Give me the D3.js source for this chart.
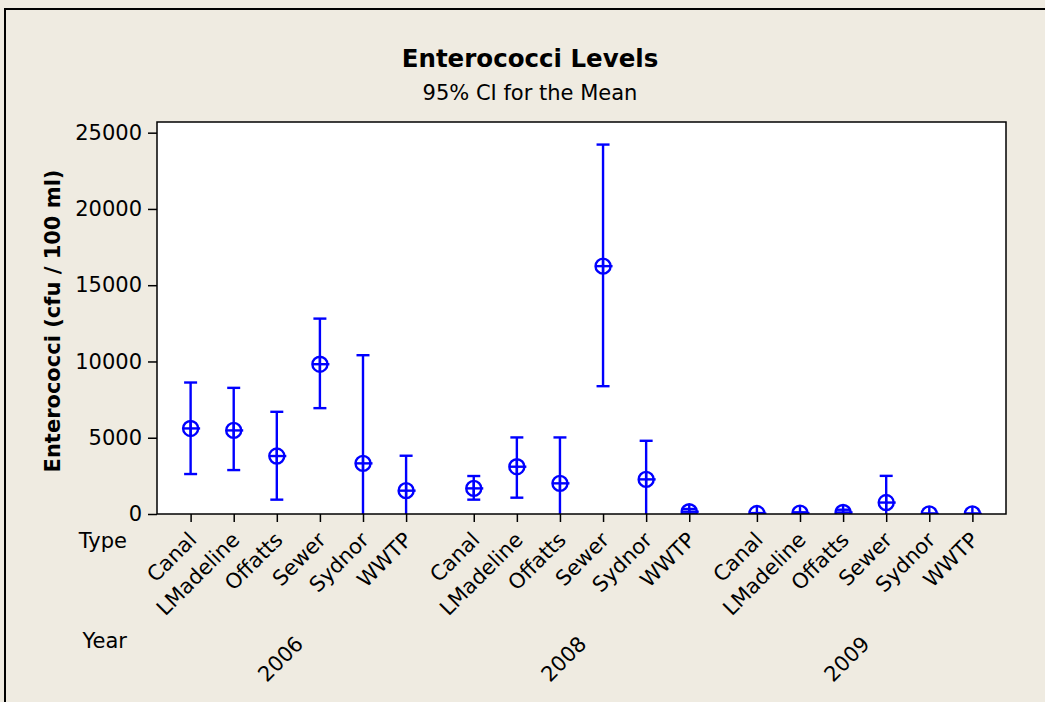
<!DOCTYPE html>
<html>
<head>
<meta charset="utf-8">
<script src="https://cdn.jsdelivr.net/npm/d3@7"></script>
<style>
  body { margin: 0; background: #efebe1; }
  svg { display: block; font-family: "DejaVu Sans", sans-serif; }
</style>
</head>
<body>
<div id="chart"></div>
<script>
// Data
const years = ['2006', '2008', '2009'];
const types = ['Canal', 'LMadeline', 'Offatts', 'Sewer', 'Sydnor', 'WWTP'];

// one row per year, one value per type
const means = [
  [5610, 5480, 3800, 9820, 3320, 1530],
  [1680, 3100, 2010, 16250, 2270, 150],
  [30, 60, 100, 750, 10, 10]
];
const lower = [
  [2620, 2880, 940, 6940, -3770, -760],
  [940, 1070, -1000, 8380, -260, 0],
  [0, 10, -80, -1000, -10, -10]
];
const upper = [
  [8620, 8270, 6700, 12810, 10410, 3820],
  [2490, 5020, 5020, 24220, 4800, 330],
  [60, 110, 280, 2500, 30, 30]
];
const yTicks = [0, 5000, 10000, 15000, 20000, 25000];

const title = 'Enterococci Levels';
const subtitle = '95% CI for the Mean';
const yLabel = 'Enterococci (cfu / 100 ml)';

function renderInterval(container) {
  const width = 1045, height = 702;
  const plot = { left: 157, right: 1006, top: 122, bottom: 514 };
  const groupStep = 6.57;   // slots per year group (6 types + gap)
  const blue = '#0000ff';
  const labelSize = 21;

  d3.select(container).selectAll('*').remove();

  const rows = years.flatMap((yr, g) => types.map((t, i) => ({
    year: yr, type: t, slot: g * groupStep + i,
    mean: means[g][i], lo: lower[g][i], hi: upper[g][i]
  })));

  const x = d3.scaleLinear()
    .domain([-0.78, 18.92])
    .range([plot.left, plot.right]);

  const y = d3.scaleLinear()
    .domain([0, 25700])
    .range([plot.bottom, plot.top]);

  const svg = d3.select(container)
    .append('svg')
      .attr('width', width)
      .attr('height', height);

  // background + frame (top and left edges visible)
  svg.append('rect')
    .attr('width', width).attr('height', height)
    .attr('fill', '#efebe1');
  svg.append('path')
    .attr('d', `M5,${height} V9 H${width}`)
    .attr('fill', 'none')
    .attr('stroke', '#000')
    .attr('stroke-width', 2);

  // titles
  svg.append('text')
    .attr('x', 530).attr('y', 67)
    .attr('text-anchor', 'middle')
    .attr('font-size', 24.5).attr('font-weight', 'bold')
    .text(title);
  svg.append('text')
    .attr('x', 530).attr('y', 100)
    .attr('text-anchor', 'middle')
    .attr('font-size', 21)
    .text(subtitle);

  // plot area
  svg.append('rect')
    .attr('x', plot.left).attr('y', plot.top)
    .attr('width', plot.right - plot.left)
    .attr('height', plot.bottom - plot.top)
    .attr('fill', '#fff');

  svg.append('clipPath')
    .attr('id', 'plot-clip')
    .append('rect')
      .attr('x', plot.left).attr('y', plot.top)
      .attr('width', plot.right - plot.left)
      .attr('height', plot.bottom - plot.top);

  // y axis
  const yAxis = svg.append('g')
    .attr('transform', `translate(${plot.left},0)`)
    .call(d3.axisLeft(y)
      .tickValues(yTicks)
      .tickSize(9)
      .tickPadding(6)
      .tickSizeOuter(0)
      .tickFormat(d3.format('d')));
  yAxis.select('.domain').remove();
  yAxis.selectAll('line').attr('stroke', '#000').attr('stroke-width', 1.5);
  yAxis.selectAll('text')
    .attr('font-size', labelSize)
    .attr('font-family', '"DejaVu Sans", sans-serif')
    .attr('fill', '#000');

  svg.append('text')
    .attr('transform', `translate(60,321) rotate(-90)`)
    .attr('text-anchor', 'middle')
    .attr('font-size', 21).attr('font-weight', 'bold')
    .text(yLabel);

  // x axis ticks
  const xAxis = svg.append('g')
    .attr('transform', `translate(0,${plot.bottom})`)
    .call(d3.axisBottom(x)
      .tickValues(rows.map(d => d.slot))
      .tickSize(8)
      .tickSizeOuter(0)
      .tickFormat(''));
  xAxis.select('.domain').remove();
  xAxis.selectAll('line').attr('stroke', '#000').attr('stroke-width', 1.5);

  // type labels, rotated
  svg.append('g')
    .selectAll('text')
    .data(rows)
    .join('text')
      .attr('transform', d => `translate(${x(d.slot) + 2},536) rotate(-45)`)
      .attr('text-anchor', 'end')
      .attr('dy', '0.35em')
      .attr('font-size', labelSize)
      .text(d => d.type);

  // year labels at group centres
  svg.append('g')
    .selectAll('text')
    .data(years)
    .join('text')
      .attr('transform', (d, g) => {
        const cx = x(g * groupStep + (types.length - 1) / 2);
        return `translate(${cx + 1},640) rotate(-45)`;
      })
      .attr('text-anchor', 'end')
      .attr('dy', '0.35em')
      .attr('font-size', labelSize)
      .text(d => d);

  svg.append('text')
    .attr('x', 127).attr('y', 548)
    .attr('text-anchor', 'end')
    .attr('font-size', labelSize)
    .text('Type');
  svg.append('text')
    .attr('x', 127).attr('y', 648)
    .attr('text-anchor', 'end')
    .attr('font-size', labelSize)
    .text('Year');

  // intervals + mean symbols
  const marks = svg.append('g')
    .attr('clip-path', 'url(#plot-clip)')
    .attr('stroke', blue)
    .attr('stroke-width', 2.4)
    .attr('fill', 'none');

  const bar = marks.selectAll('g')
    .data(rows)
    .join('g')
      .attr('transform', d => `translate(${x(d.slot)},0)`);

  bar.append('line')
    .attr('y1', d => y(d.lo))
    .attr('y2', d => y(d.hi));
  bar.append('line')
    .attr('x1', -6.5).attr('x2', 6.5)
    .attr('y1', d => y(d.hi)).attr('y2', d => y(d.hi));
  bar.append('line')
    .attr('x1', -6.5).attr('x2', 6.5)
    .attr('y1', d => y(d.lo)).attr('y2', d => y(d.lo));

  bar.append('circle')
    .attr('cy', d => y(d.mean))
    .attr('r', 7.5);
  bar.append('line')
    .attr('x1', -7.5).attr('x2', 9.5)
    .attr('y1', d => y(d.mean)).attr('y2', d => y(d.mean));
  bar.append('line')
    .attr('y1', d => y(d.mean) - 7.5)
    .attr('y2', d => y(d.mean) + 7.5);

  // plot frame on top
  svg.append('rect')
    .attr('x', plot.left).attr('y', plot.top)
    .attr('width', plot.right - plot.left)
    .attr('height', plot.bottom - plot.top)
    .attr('fill', 'none')
    .attr('stroke', '#000')
    .attr('stroke-width', 1.5);
}

renderInterval('#chart');
</script>
</body>
</html>
